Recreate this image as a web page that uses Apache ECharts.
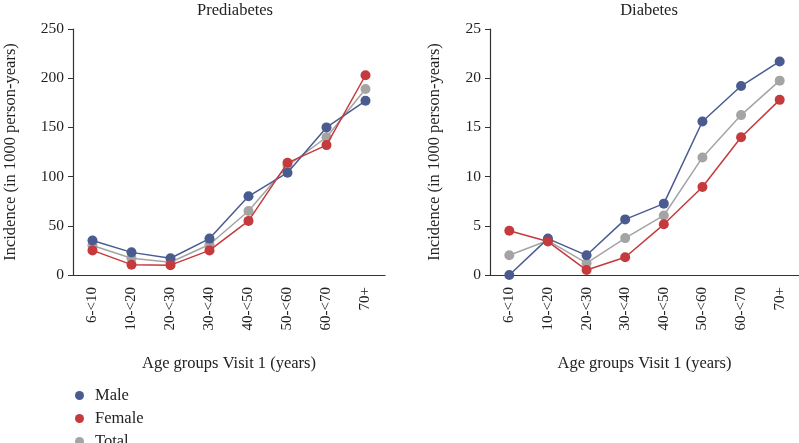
<!DOCTYPE html>
<html><head><meta charset="utf-8">
<script src="https://cdn.jsdelivr.net/npm/echarts@6/dist/echarts.min.js"></script>
<style>html,body{margin:0;padding:0;background:#fff}#c{width:799px;height:443px}</style>
</head><body><div id="c"></div>
<script>
var categories = ['6-<10','10-<20','20-<30','30-<40','40-<50','50-<60','60-<70','70+'];
var preMale   = [35, 23, 17, 37, 80, 104, 150, 177];
var preFemale = [25, 10.5, 10, 25, 55, 114, 132, 203];
var preTotal  = [30, 17, 13, 31, 65, 111, 140, 189];
var diaMale   = [0, 3.7, 2.0, 5.65, 7.25, 15.6, 19.2, 21.7];
var diaFemale = [4.5, 3.4, 0.5, 1.8, 5.15, 8.95, 14.0, 17.8];
var diaTotal  = [2.0, 3.5, 1.2, 3.75, 6.05, 11.95, 16.25, 19.75];
var titles = ['Prediabetes','Diabetes'];
var yName = 'Incidence (in 1000 person-years)';
var xName = 'Age groups Visit 1 (years)';

var FONT = '"Liberation Serif", "DejaVu Serif", serif';
var C = {Male:'#4a5b8f', Female:'#c53a3c', Total:'#a4a4a4'};
var axisColor = '#333';
function xAxis(i){
  return {type:'category', gridIndex:i, data:categories, boundaryGap:true,
    axisLine:{lineStyle:{color:axisColor, width:1.2}},
    axisTick:{alignWithLabel:true, length:5, lineStyle:{color:axisColor}},
    axisLabel:{rotate:90, fontFamily:FONT, fontSize:15, color:'#222', margin:12, interval:0},
    name:xName, nameLocation:'middle', nameGap:80,
    nameTextStyle:{fontFamily:FONT, fontSize:16.5, color:'#222'}};
}
function yAxis(i, max, interval, gap){
  return {type:'value', gridIndex:i, min:0, max:max, interval:interval,
    axisLine:{show:true, lineStyle:{color:axisColor, width:1.2}},
    axisTick:{show:true, length:5, lineStyle:{color:axisColor}},
    splitLine:{show:false},
    axisLabel:{fontFamily:FONT, fontSize:15.5, color:'#222', margin:9},
    name:yName, nameLocation:'middle', nameGap:gap,
    nameTextStyle:{fontFamily:FONT, fontSize:16.5, color:'#222'}};
}
function ser(name, data, i){
  return {name:name, type:'line', xAxisIndex:i, yAxisIndex:i, data:data,
    symbol:'circle', symbolSize:10, color:C[name],
    lineStyle:{width:1.5, color:C[name]}, itemStyle:{color:C[name]}, z: name==='Total'?2:3};
}
var chart = echarts.init(document.getElementById('c'));
chart.setOption({
  animation:false,
  title:[
    {text:titles[0], left:230, top:-3, textAlign:'center', textStyle:{fontFamily:FONT, fontSize:16.5, fontWeight:'normal', color:'#222'}},
    {text:titles[1], left:644, top:-3, textAlign:'center', textStyle:{fontFamily:FONT, fontSize:16.5, fontWeight:'normal', color:'#222'}}
  ],
  legend:{orient:'vertical', left:70, top:382, height:90, padding:5, icon:'circle', itemWidth:9, itemHeight:9, itemGap:6,
    data:['Male','Female','Total'],
    textStyle:{fontFamily:FONT, fontSize:16.5, color:'#222', lineHeight:16, padding:[0,0,0,6]}},
  grid:[
    {left:73, top:29, width:312, height:246},
    {left:490, top:29, width:309, height:246}
  ],
  xAxis:[xAxis(0), xAxis(1)],
  yAxis:[yAxis(0, 250, 50, 54), yAxis(1, 25, 5, 47)],
  series:[
    ser('Total', preTotal, 0), ser('Male', preMale, 0), ser('Female', preFemale, 0),
    ser('Total', diaTotal, 1), ser('Male', diaMale, 1), ser('Female', diaFemale, 1)
  ]
});
</script></body></html>
